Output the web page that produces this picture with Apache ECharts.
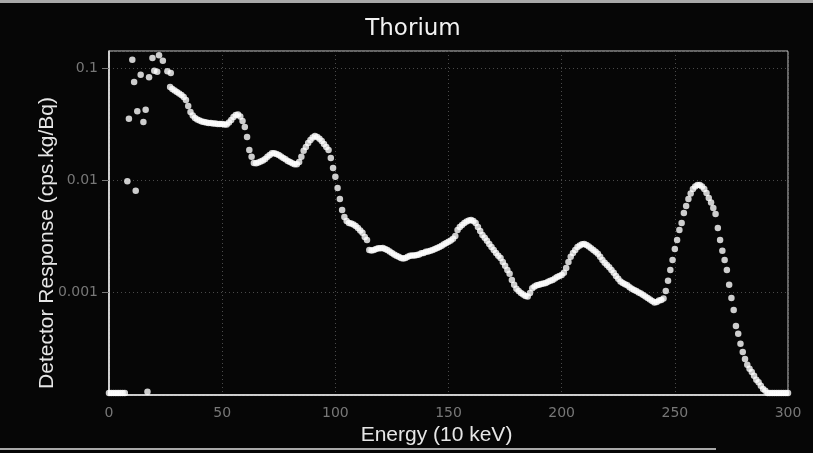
<!DOCTYPE html>
<html>
<head>
<meta charset="utf-8">
<script src="https://cdn.jsdelivr.net/npm/echarts@6/dist/echarts.min.js"></script>
<style>
  html, body { margin: 0; padding: 0; background: #060606; }
  #chart { width: 813px; height: 453px; }
</style>
</head>
<body>
<div id="chart"></div>
<script>
// Thorium detector response spectrum, log scale.
const titleText = 'Thorium';
const xAxisName = 'Energy (10 keV)';
const yAxisName = 'Detector Response (cps.kg/Bq)';
const energyRange = [0, 300];
const energyStep = 50;
const responseRange = [0.00012, 0.142];
const responseTickLabels = { '0.001': '0.001', '0.01': '0.01', '0.1': '0.1' };

// Scattered low-energy points (energy in units of 10 keV)
const lowEnergy = [0, 1, 2, 3, 4, 5, 6, 7, 17,
  8.1, 8.8, 10.3, 11.1, 11.8, 12.5, 14.0, 15.2, 16.2, 17.7,
  19.2, 20.0, 21.3, 22.1, 23.8, 25.8, 27.3];
const lowResponse = [0.000125, 0.000125, 0.000125, 0.000125, 0.000125, 0.000125, 0.000125, 0.000125, 0.000128,
  0.00974, 0.0353, 0.1186, 0.0750, 0.00803, 0.0411, 0.0871, 0.0330, 0.0424, 0.0826,
  0.1228, 0.0946, 0.0927, 0.1298, 0.1160, 0.0934, 0.0902];

// Continuous spectrum, one value per channel starting at firstChannel
const firstChannel = 27;
const response = [
  0.0677, 0.0650, 0.0630, 0.0611, 0.0592, 0.0574, 0.0551, 0.0518, 0.0458, 0.0405,
  0.0377, 0.0358, 0.0347, 0.0340, 0.0333, 0.0330, 0.0326, 0.0323, 0.0323, 0.0320,
  0.0320, 0.0316, 0.0316, 0.0316, 0.0313, 0.0313, 0.0326, 0.0344, 0.0365, 0.0381,
  0.0385, 0.0369, 0.0337, 0.0298, 0.0242, 0.0185, 0.0161, 0.0142, 0.0141, 0.0143,
  0.0146, 0.0149, 0.0154, 0.0161, 0.0167, 0.0173, 0.0173, 0.0171, 0.0167, 0.0162,
  0.0157, 0.0153, 0.0148, 0.0145, 0.0141, 0.0138, 0.0138, 0.0145, 0.0161, 0.0182,
  0.0197, 0.0214, 0.0228, 0.0240, 0.0247, 0.0242, 0.0233, 0.0223, 0.0210, 0.0197,
  0.0185, 0.0157, 0.0128, 0.0107, 0.00848, 0.00677, 0.00540, 0.00468, 0.00431, 0.00413,
  0.00409, 0.00401, 0.00389, 0.00373, 0.00354, 0.00337, 0.00310, 0.00291, 0.00237, 0.00235,
  0.00237, 0.00242, 0.00245, 0.00245, 0.00247, 0.00242, 0.00237, 0.00230, 0.00223, 0.00216,
  0.00210, 0.00206, 0.00201, 0.00199, 0.00201, 0.00206, 0.00210, 0.00212, 0.00212, 0.00214,
  0.00216, 0.00221, 0.00223, 0.00228, 0.00230, 0.00233, 0.00237, 0.00242, 0.00247, 0.00252,
  0.00258, 0.00266, 0.00274, 0.00280, 0.00288, 0.00298, 0.00316, 0.00358, 0.00381, 0.00397,
  0.00413, 0.00426, 0.00435, 0.00440, 0.00431, 0.00413, 0.00381, 0.00351, 0.00323, 0.00304,
  0.00286, 0.00268, 0.00252, 0.00237, 0.00223, 0.00210, 0.00201, 0.00185, 0.00171, 0.00157,
  0.00145, 0.00128, 0.00116, 0.00107, 0.00102, 0.000980, 0.000950, 0.000921, 0.000912, 0.000980,
  0.00108, 0.00112, 0.00115, 0.00116, 0.00118, 0.00119, 0.00120, 0.00123, 0.00126, 0.00128,
  0.00132, 0.00136, 0.00139, 0.00142, 0.00148, 0.00164, 0.00185, 0.00206, 0.00223, 0.00237,
  0.00252, 0.00260, 0.00266, 0.00268, 0.00263, 0.00255, 0.00245, 0.00237, 0.00228, 0.00219,
  0.00206, 0.00193, 0.00182, 0.00174, 0.00166, 0.00157, 0.00148, 0.00139, 0.00131, 0.00124,
  0.00120, 0.00117, 0.00115, 0.00110, 0.00107, 0.00104, 0.00102, 0.000990, 0.000970, 0.000940,
  0.000912, 0.000884, 0.000857, 0.000831, 0.000806, 0.000814, 0.000840, 0.000848, 0.000875, 0.00102,
  0.00126, 0.00157, 0.00193, 0.00242, 0.00291, 0.00358, 0.00413, 0.00508, 0.00586, 0.00677,
  0.00758, 0.00831, 0.00875, 0.00902, 0.00902, 0.00875, 0.00831, 0.00766, 0.00691, 0.00630,
  0.00563, 0.00497, 0.00373, 0.00291, 0.00233, 0.00193, 0.00157, 0.00116, 0.000884, 0.000691,
  0.000497, 0.000422, 0.000344, 0.000291, 0.000252, 0.000223, 0.000206, 0.000193, 0.000178, 0.000164,
  0.000156, 0.000145, 0.000136, 0.000131, 0.000125, 0.000125, 0.000125, 0.000125, 0.000125, 0.000125,
  0.000125, 0.000125, 0.000125, 0.000125
];

const points = [];
lowEnergy.forEach((e, i) => points.push([e, lowResponse[i]]));
response.forEach((v, i) => points.push([firstChannel + i, v]));

const sans = '"Liberation Sans", Arial, sans-serif';
const wide = '"DejaVu Sans", sans-serif';
const chart = echarts.init(document.getElementById('chart'), null, { renderer: 'canvas' });

chart.setOption({
  backgroundColor: '#060606',
  animation: false,
  graphic: [
    {
      type: 'text',
      x: 413, y: 29,
      style: {
        text: titleText,
        fill: '#f2f2f2',
        font: '23px ' + wide,
        textAlign: 'center',
        textVerticalAlign: 'middle'
      }
    },
    // worn edges of the printed frame
    { type: 'rect', shape: { x: 0, y: 0, width: 813, height: 3 }, style: { fill: '#a8a8a8' }, silent: true },
    { type: 'rect', shape: { x: 0, y: 448, width: 716, height: 2 }, style: { fill: '#a8a8a8' }, silent: true }
  ],
  grid: {
    left: 109, right: 25, top: 51, bottom: 58,
    show: true,
    borderColor: '#c8c8c8',
    borderWidth: 1
  },
  xAxis: {
    type: 'value',
    min: energyRange[0], max: energyRange[1], interval: energyStep,
    name: xAxisName,
    nameLocation: 'middle',
    nameGap: 30,
    nameTextStyle: { color: '#e6e6e6', fontSize: 21, fontFamily: sans, padding: [0, 24, 0, 0] },
    axisLine: { lineStyle: { color: '#f0f0f0', width: 1.5 } },
    axisTick: { show: false },
    axisLabel: { color: '#777777', fontSize: 14, fontFamily: wide, margin: 11 },
    splitLine: { show: true, lineStyle: { color: '#4a4a4a', type: [1, 3], width: 1 } }
  },
  yAxis: {
    type: 'log',
    logBase: 10,
    min: responseRange[0], max: responseRange[1],
    name: yAxisName,
    nameLocation: 'middle',
    nameRotate: 90,
    nameGap: 51,
    nameMoveOverlap: false,
    nameTextStyle: { color: '#e6e6e6', fontSize: 21, fontFamily: sans, padding: [0, 0, 0, -40] },
    axisLine: { show: true, lineStyle: { color: '#f0f0f0', width: 1.5 } },
    axisTick: { show: true, length: 7, lineStyle: { color: '#777777' } },
    axisLabel: {
      color: '#777777', fontSize: 14, fontFamily: wide, margin: 11,
      showMinLabel: false, showMaxLabel: false,
      formatter: v => responseTickLabels[String(+v.toPrecision(3))] || ''
    },
    splitLine: { show: true, lineStyle: { color: '#4a4a4a', type: [1, 3], width: 1 } }
  },
  series: [{
    type: 'scatter',
    data: points,
    symbol: 'circle',
    symbolSize: 6.5,
    itemStyle: { color: '#ffffff' },
    silent: true
  }]
});
</script>
</body>
</html>
